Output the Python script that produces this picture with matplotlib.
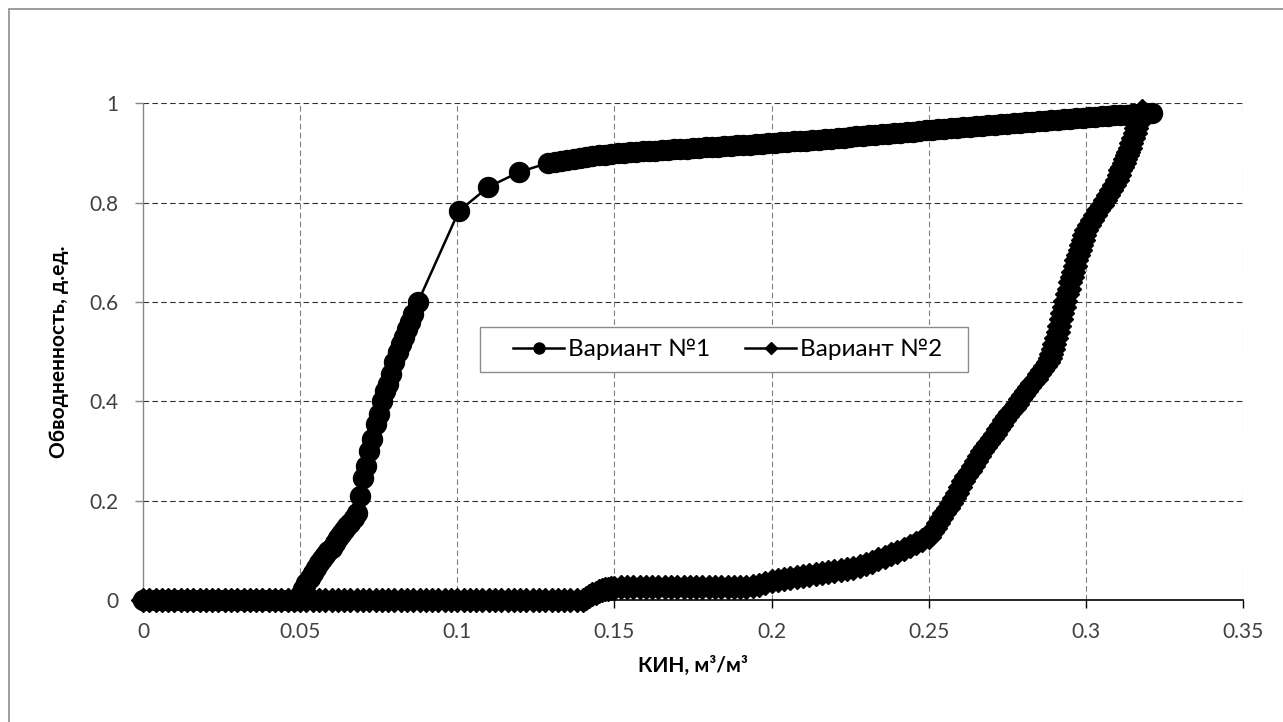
import matplotlib
matplotlib.use('Agg')
import matplotlib.pyplot as plt
from matplotlib.patches import Rectangle
from matplotlib.ticker import FuncFormatter

plt.rcParams['font.family'] = ['Lato', 'DejaVu Sans']

# Вариант №1 (круглые маркеры)
x1 = [0.000, 0.002, 0.004, 0.006, 0.008, 0.010, 0.012, 0.014, 0.016, 0.018,
      0.020, 0.022, 0.024, 0.026, 0.028, 0.030, 0.032, 0.034, 0.036, 0.038,
      0.040, 0.042, 0.044, 0.046, 0.048,
      0.049, 0.050, 0.051, 0.052, 0.053, 0.054, 0.055, 0.056, 0.057, 0.058,
      0.059, 0.060, 0.061, 0.062, 0.063, 0.064, 0.065, 0.066, 0.067, 0.068,
      0.069, 0.070, 0.071, 0.072, 0.073, 0.074, 0.075, 0.076, 0.077, 0.078,
      0.079, 0.080, 0.081, 0.082, 0.083, 0.084, 0.085, 0.086, 0.0875,
      0.1005, 0.1098, 0.1195, 0.1290,
      0.131, 0.133, 0.135, 0.137, 0.139, 0.141, 0.143, 0.145, 0.147, 0.149,
      0.151, 0.153, 0.155, 0.157, 0.159, 0.161, 0.163, 0.165, 0.167, 0.169,
      0.171, 0.173, 0.175, 0.177, 0.179, 0.181, 0.183, 0.185, 0.187, 0.189,
      0.191, 0.193, 0.195, 0.197, 0.199, 0.201, 0.203, 0.205, 0.207, 0.209,
      0.211, 0.213, 0.215, 0.217, 0.219, 0.221, 0.223, 0.225, 0.227, 0.229,
      0.231, 0.233, 0.235, 0.237, 0.239, 0.241, 0.243, 0.245, 0.247, 0.249,
      0.251, 0.253, 0.255, 0.257, 0.259, 0.261, 0.263, 0.265, 0.267, 0.269,
      0.271, 0.273, 0.275, 0.277, 0.279, 0.281, 0.283, 0.285, 0.287, 0.289,
      0.291, 0.293, 0.295, 0.297, 0.299, 0.301, 0.303, 0.305, 0.307, 0.309,
      0.311, 0.313, 0.315, 0.317, 0.319, 0.321]
y1 = [0.000, 0.000, 0.000, 0.000, 0.000, 0.000, 0.000, 0.000, 0.000, 0.000,
      0.000, 0.000, 0.000, 0.000, 0.000, 0.000, 0.000, 0.000, 0.000, 0.000,
      0.000, 0.000, 0.000, 0.000, 0.000,
      0.000, 0.010, 0.022, 0.035, 0.045, 0.055, 0.065, 0.075, 0.083, 0.090,
      0.098, 0.105, 0.115, 0.125, 0.133, 0.140, 0.148, 0.155, 0.165, 0.175,
      0.210, 0.245, 0.270, 0.300, 0.325, 0.355, 0.375, 0.400, 0.420, 0.435,
      0.455, 0.480, 0.500, 0.515, 0.530, 0.545, 0.560, 0.575, 0.600,
      0.783, 0.831, 0.861, 0.880,
      0.882, 0.884, 0.886, 0.888, 0.890, 0.891, 0.893, 0.895, 0.896, 0.898,
      0.899, 0.900, 0.901, 0.902, 0.903, 0.903, 0.904, 0.905, 0.906, 0.907,
      0.907, 0.908, 0.909, 0.910, 0.911, 0.911, 0.912, 0.913, 0.914, 0.915,
      0.915, 0.916, 0.917, 0.918, 0.919, 0.920, 0.921, 0.922, 0.923, 0.924,
      0.925, 0.926, 0.927, 0.928, 0.929, 0.930, 0.931, 0.933, 0.934, 0.935,
      0.936, 0.937, 0.938, 0.939, 0.940, 0.941, 0.942, 0.943, 0.944, 0.946,
      0.947, 0.948, 0.949, 0.950, 0.951, 0.952, 0.953, 0.954, 0.955, 0.956,
      0.957, 0.958, 0.959, 0.960, 0.961, 0.962, 0.963, 0.964, 0.965, 0.966,
      0.967, 0.968, 0.969, 0.970, 0.971, 0.972, 0.973, 0.974, 0.975, 0.976,
      0.976, 0.977, 0.978, 0.979, 0.980, 0.981]

# Вариант №2 (ромбы)
x2 = [0.000, 0.002, 0.004, 0.006, 0.008, 0.010, 0.012, 0.014, 0.016, 0.018,
      0.020, 0.022, 0.024, 0.026, 0.028, 0.030, 0.032, 0.034, 0.036, 0.038,
      0.040, 0.042, 0.044, 0.046, 0.048, 0.050, 0.052, 0.054, 0.056, 0.058,
      0.060, 0.062, 0.064, 0.066, 0.068, 0.070, 0.072, 0.074, 0.076, 0.078,
      0.080, 0.082, 0.084, 0.086, 0.088, 0.090, 0.092, 0.094, 0.096, 0.098,
      0.100, 0.102, 0.104, 0.106, 0.108, 0.110, 0.112, 0.114, 0.116, 0.118,
      0.120, 0.122, 0.124, 0.126, 0.128, 0.130, 0.132, 0.134, 0.136, 0.138,
      0.140,
      0.141, 0.142, 0.143, 0.144, 0.145, 0.146, 0.147, 0.148, 0.149, 0.150,
      0.152, 0.154, 0.156, 0.158, 0.160, 0.162, 0.164, 0.166, 0.168, 0.170,
      0.172, 0.174, 0.176, 0.178, 0.180, 0.182, 0.184, 0.186, 0.188, 0.190,
      0.192, 0.194,
      0.196, 0.198, 0.200, 0.202, 0.204, 0.206, 0.208, 0.210, 0.212, 0.214,
      0.216, 0.218, 0.220, 0.222, 0.224, 0.226, 0.228, 0.230, 0.232, 0.234,
      0.236, 0.238, 0.240, 0.242, 0.244, 0.246, 0.248, 0.250,
      0.251, 0.252, 0.253, 0.254, 0.255, 0.256, 0.257, 0.258, 0.259, 0.260,
      0.261, 0.262, 0.263, 0.264, 0.265, 0.266, 0.267, 0.268, 0.269, 0.270,
      0.271, 0.272, 0.273, 0.274, 0.275, 0.276, 0.277, 0.278, 0.279, 0.280,
      0.281, 0.282, 0.283, 0.284, 0.285, 0.286, 0.287, 0.288,
      0.2885, 0.289, 0.2895, 0.290, 0.2905, 0.291, 0.2915, 0.292, 0.2925, 0.293,
      0.2935, 0.294, 0.2945, 0.295, 0.2955, 0.296, 0.2965, 0.297, 0.2975, 0.298,
      0.2985, 0.299, 0.2995, 0.300,
      0.301, 0.302, 0.303, 0.304, 0.305, 0.306, 0.307, 0.308, 0.309, 0.310,
      0.3105, 0.311, 0.3115, 0.312, 0.3125, 0.313, 0.3135, 0.314, 0.3145, 0.315,
      0.3155, 0.316, 0.3165, 0.317, 0.3175, 0.318]
y2 = [0.000, 0.000, 0.000, 0.000, 0.000, 0.000, 0.000, 0.000, 0.000, 0.000,
      0.000, 0.000, 0.000, 0.000, 0.000, 0.000, 0.000, 0.000, 0.000, 0.000,
      0.000, 0.000, 0.000, 0.000, 0.000, 0.000, 0.000, 0.000, 0.000, 0.000,
      0.000, 0.000, 0.000, 0.000, 0.000, 0.000, 0.000, 0.000, 0.000, 0.000,
      0.000, 0.000, 0.000, 0.000, 0.000, 0.000, 0.000, 0.000, 0.000, 0.000,
      0.000, 0.000, 0.000, 0.000, 0.000, 0.000, 0.000, 0.000, 0.000, 0.000,
      0.000, 0.000, 0.000, 0.000, 0.000, 0.000, 0.000, 0.000, 0.000, 0.000,
      0.000,
      0.004, 0.008, 0.012, 0.015, 0.018, 0.020, 0.022, 0.023, 0.024, 0.025,
      0.026, 0.026, 0.026, 0.026, 0.026, 0.026, 0.026, 0.026, 0.026, 0.026,
      0.026, 0.026, 0.026, 0.026, 0.026, 0.027, 0.027, 0.027, 0.027, 0.027,
      0.027, 0.028,
      0.030, 0.034, 0.038, 0.040, 0.042, 0.044, 0.046, 0.048, 0.050, 0.052,
      0.054, 0.056, 0.058, 0.060, 0.062, 0.064, 0.068, 0.072, 0.077, 0.082,
      0.087, 0.092, 0.097, 0.103, 0.109, 0.115, 0.121, 0.127,
      0.136, 0.145, 0.155, 0.165, 0.175, 0.185, 0.195, 0.205, 0.216, 0.228,
      0.239, 0.250, 0.260, 0.270, 0.280, 0.290, 0.299, 0.308, 0.317, 0.326,
      0.335, 0.344, 0.353, 0.362, 0.370, 0.378, 0.387, 0.395, 0.404, 0.412,
      0.420, 0.428, 0.437, 0.445, 0.454, 0.462, 0.471, 0.480,
      0.487, 0.495, 0.505, 0.515, 0.527, 0.540, 0.552, 0.565, 0.577, 0.590,
      0.602, 0.615, 0.627, 0.640, 0.650, 0.660, 0.672, 0.685, 0.695, 0.705,
      0.715, 0.725, 0.735, 0.745,
      0.755, 0.765, 0.775, 0.785, 0.795, 0.805, 0.815, 0.825, 0.835, 0.845,
      0.855, 0.865, 0.872, 0.880, 0.887, 0.895, 0.902, 0.910, 0.920, 0.930,
      0.940, 0.950, 0.960, 0.970, 0.978, 0.985]

series_names = ['Вариант №1', 'Вариант №2']
x_label = 'КИН, м³/м³'
y_label = 'Обводненность, д.ед.'
x_ticks = [0, 0.05, 0.1, 0.15, 0.2, 0.25, 0.3, 0.35]
y_ticks = [0, 0.2, 0.4, 0.6, 0.8, 1]

fig = plt.figure(figsize=(12.83, 7.22), dpi=100)
ax = fig.add_axes([0.1115, 0.169, 0.8573, 0.688])

# рамка вокруг всей диаграммы
fig.patches.append(Rectangle((9 / 1283, -0.05), 1.2, 1 - 9 / 722 + 0.05,
                             transform=fig.transFigure, fill=False,
                             edgecolor='#8c8c8c', linewidth=1.2))

ax.plot(x1, y1, color='black', linewidth=1.8, marker='o', markersize=14.4,
        label=series_names[0], zorder=3, clip_on=False)
ax.plot(x2, y2, color='black', linewidth=1.8, marker='D', markersize=12,
        label=series_names[1], zorder=3, clip_on=False)

ax.set_xlim(0, 0.35)
ax.set_ylim(0, 1)
ax.set_xticks(x_ticks)
ax.set_yticks(y_ticks)
fmt = FuncFormatter(lambda v, p: '{:g}'.format(round(v, 4)))
ax.xaxis.set_major_formatter(fmt)
ax.yaxis.set_major_formatter(fmt)

# сетка пунктиром
for v in y_ticks[1:]:
    ax.axhline(v, color='#303030', linewidth=0.8, linestyle=(0, (5, 3)), zorder=1)
for v in x_ticks[1:]:
    ax.axvline(v, color='#808080', linewidth=0.8, linestyle=(0, (5, 3)), zorder=1)

ax.spines['top'].set_visible(False)
ax.spines['right'].set_visible(False)
ax.spines['left'].set_color('#868686')
ax.spines['bottom'].set_color('black')
ax.spines['left'].set_linewidth(1.0)
ax.spines['bottom'].set_linewidth(1.2)
ax.tick_params(axis='x', direction='out', length=6, width=1.0, colors='black',
               labelcolor='#404040', labelsize=15, pad=10)
ax.tick_params(axis='y', direction='out', length=6, width=1.0, colors='#868686',
               labelcolor='#404040', labelsize=15, pad=12)

ax.set_xlabel(x_label, fontsize=15, fontweight='bold', labelpad=10)
ax.set_ylabel(y_label, fontsize=15, fontweight='bold', labelpad=14)

# легенда: рамка рисуется отдельно, как в Excel
ax.add_patch(Rectangle((0.1072, 0.459), 0.1553, 0.090, transform=ax.transData,
                       facecolor='white', edgecolor='#8c8c8c', linewidth=1.0,
                       zorder=4, clip_on=False))
leg = ax.legend(loc='center', bbox_to_anchor=(0.186, 0.504),
                bbox_transform=ax.transData, ncol=2, fontsize=17.5,
                markerscale=0.55, handlelength=2.1, columnspacing=1.45,
                handletextpad=0.15, frameon=False, borderpad=0.3)
leg.set_zorder(5)

fig.savefig('out.png', dpi=100)
